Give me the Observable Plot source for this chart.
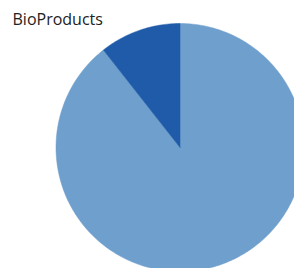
<!DOCTYPE html>
<html>
<head>
<meta charset="utf-8">
<script src="https://cdn.jsdelivr.net/npm/d3@7"></script>
<script src="https://cdn.jsdelivr.net/npm/@observablehq/plot@0.6"></script>
<style>
  html, body { margin: 0; padding: 0; background: #fff; }
  #chart svg { display: block; }
</style>
</head>
<body>
<div id="chart"></div>
<script>
const title = "BioProducts";
const categories = ["Other", "BioProducts"];
const values = [89.4, 10.6];
const colors = ["#6f9fcc", "#1f5ba8"];

const arcs = d3.pie().sort(null).value(d => d)(values);
const rows = [];
arcs.forEach((a, i) => {
  rows.push({cat: categories[i], x: 0, y: 0});
  const steps = Math.max(2, Math.ceil((a.endAngle - a.startAngle) / (Math.PI / 180)));
  for (let k = 0; k <= steps; k++) {
    const t = a.startAngle + (a.endAngle - a.startAngle) * k / steps;
    rows.push({cat: categories[i], x: Math.sin(t), y: Math.cos(t)});
  }
  rows.push({cat: categories[i], x: 0, y: 0});
});

const cx = 179.5, cy = 147, r = 124;
const chart = Plot.plot({
  width: 294,
  height: 268,
  margin: 0,
  x: {domain: [-1, 1], range: [cx - r, cx + r], axis: null},
  y: {domain: [-1, 1], range: [cy + r, cy - r], axis: null},
  color: {domain: categories, range: colors},
  marks: [
    Plot.line(rows, {x: "x", y: "y", z: "cat", fill: "cat", stroke: "cat", strokeWidth: 0.5, curve: "linear"}),
    Plot.text([title], {frameAnchor: "top-left", dx: 12, dy: 13, text: d => d, fontSize: 16, fill: "#222", textAnchor: "start", lineAnchor: "top", fontFamily: "Open Sans"})
  ],
  style: {background: "#fff", overflow: "hidden"}
});
document.getElementById("chart").append(chart);
</script>
</body>
</html>
